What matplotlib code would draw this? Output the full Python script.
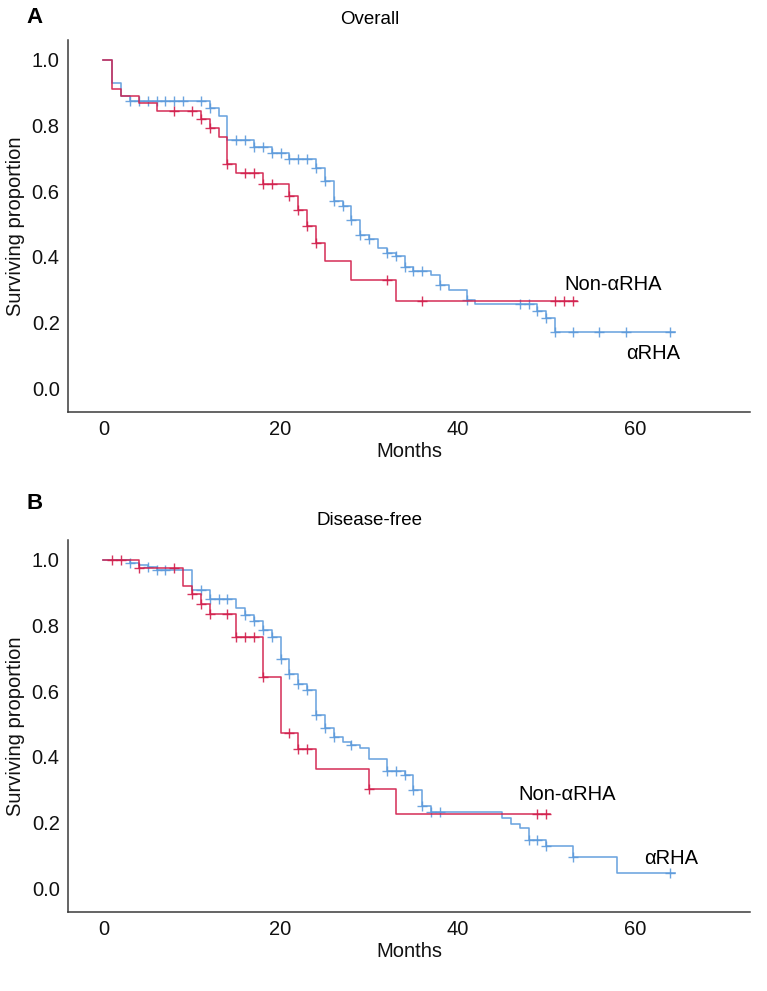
import numpy as np
import matplotlib
matplotlib.use("Agg")
import matplotlib.pyplot as plt

plt.rcParams['font.family'] = ['Liberation Sans', 'DejaVu Sans']

# ---- Overall survival (panel A) ----
a_red_times = [0, 1, 2, 4, 6, 11, 12, 13, 14, 15, 18, 21, 22, 23, 24, 25, 28, 33]
a_red_surv = [1.0, 0.912, 0.889, 0.867, 0.844, 0.818, 0.793, 0.766, 0.683, 0.655,
              0.621, 0.584, 0.542, 0.494, 0.443, 0.387, 0.329, 0.265]
a_red_end = 53.5
a_red_cens = [8, 10, 11, 12, 14, 16, 17, 18, 19, 21, 22, 23, 24, 32, 36, 51, 52, 53]

a_blue_times = [0, 1, 2, 3, 12, 13, 14, 17, 19, 21, 24, 25, 26, 27, 28, 29, 30, 31,
                32, 33, 34, 35, 37, 38, 39, 41, 42, 49, 50, 51]
a_blue_surv = [1.0, 0.929, 0.889, 0.873, 0.852, 0.829, 0.756, 0.734, 0.716, 0.697,
               0.670, 0.632, 0.571, 0.555, 0.512, 0.465, 0.453, 0.428, 0.413, 0.403,
               0.370, 0.358, 0.345, 0.314, 0.299, 0.268, 0.255, 0.236, 0.215, 0.170]
a_blue_end = 64.5
a_blue_cens = [3, 4, 5, 6, 7, 8, 9, 11, 12, 15, 16, 17, 18, 19, 20, 21, 22, 23, 24, 25,
               26, 27, 28, 29, 30, 32, 33, 34, 35, 36, 38, 41, 47, 48, 49, 50, 51, 53,
               56, 59, 64]

# ---- Disease-free survival (panel B) ----
b_red_times = [0, 4, 9, 10, 11, 12, 15, 18, 20, 22, 24, 30, 33]
b_red_surv = [1.0, 0.975, 0.920, 0.895, 0.865, 0.835, 0.765, 0.642, 0.472, 0.423,
              0.363, 0.303, 0.225]
b_red_end = 50.4
b_red_cens = [1, 2, 4, 8, 10, 11, 12, 14, 15, 16, 17, 18, 21, 22, 23, 30, 49, 50]

b_blue_times = [0, 3, 4, 5, 6, 10, 12, 15, 16, 17, 18, 19, 20, 21, 22, 23, 24, 25, 26,
                27, 28, 29, 30, 32, 34, 35, 36, 37, 45, 46, 47, 48, 50, 53, 58]
b_blue_surv = [1.0, 0.990, 0.984, 0.978, 0.970, 0.908, 0.881, 0.852, 0.833, 0.813,
               0.785, 0.765, 0.697, 0.651, 0.622, 0.603, 0.528, 0.488, 0.462, 0.444,
               0.437, 0.427, 0.395, 0.357, 0.344, 0.298, 0.252, 0.232, 0.214, 0.197,
               0.183, 0.148, 0.128, 0.096, 0.047]
b_blue_end = 64.5
b_blue_cens = [3, 5, 6, 7, 11, 12, 13, 14, 16, 17, 18, 19, 20, 21, 22, 23, 24, 25, 26,
               28, 32, 33, 34, 35, 36, 37, 38, 48, 49, 50, 53, 64]

x_ticks = [0, 20, 40, 60]
y_ticks = [0.0, 0.2, 0.4, 0.6, 0.8, 1.0]

RED = '#D21E4B'
BLUE = '#5C9ADC'
AXCOL = '#3a3a3a'
FS = 14.5


def km_curve(ax, times, surv, end, cens, color):
    t = np.array(list(times) + [end])
    s = np.array(list(surv) + [surv[-1]])
    ax.step(t, s, where='post', color=color, lw=1.15, alpha=0.9)
    # censor marks sit on the curve level at that time
    idx = np.searchsorted(np.array(times), np.array(cens), side='right') - 1
    cy = np.array(surv)[idx]
    ax.plot(cens, cy, linestyle='none', marker='+', ms=7, mew=1.0, color=color, alpha=0.9)


def style_axes(ax):
    ax.set_xlim(-4, 73)
    ax.set_ylim(-0.072, 1.06)
    ax.set_xticks(x_ticks)
    ax.set_yticks(y_ticks)
    ax.set_yticklabels(['%.1f' % v for v in y_ticks])
    ax.tick_params(length=0, labelsize=FS, pad=6, labelcolor='#111111')
    for side in ['top', 'right']:
        ax.spines[side].set_visible(False)
    for side in ['left', 'bottom']:
        ax.spines[side].set_color(AXCOL)
        ax.spines[side].set_linewidth(1.1)
    ax.set_xlabel('Months', fontsize=FS, labelpad=2, color='#111111')
    ax.set_ylabel('Surviving proportion', fontsize=FS, labelpad=5, color='#111111')


fig = plt.figure(figsize=(7.67, 9.91), dpi=100)
ax_a = fig.add_axes([0.0887, 0.5843, 0.8892, 0.3754])
ax_b = fig.add_axes([0.0887, 0.0797, 0.8892, 0.3754])

km_curve(ax_a, a_blue_times, a_blue_surv, a_blue_end, a_blue_cens, BLUE)
km_curve(ax_a, a_red_times, a_red_surv, a_red_end, a_red_cens, RED)
style_axes(ax_a)
ax_a.text(52, 0.315, 'Non-αRHA', fontsize=FS, va='center', ha='left')
ax_a.text(59, 0.105, 'αRHA', fontsize=FS, va='center', ha='left')

km_curve(ax_b, b_blue_times, b_blue_surv, b_blue_end, b_blue_cens, BLUE)
km_curve(ax_b, b_red_times, b_red_surv, b_red_end, b_red_cens, RED)
style_axes(ax_b)
ax_b.text(46.8, 0.285, 'Non-αRHA', fontsize=FS, va='center', ha='left')
ax_b.text(61, 0.09, 'αRHA', fontsize=FS, va='center', ha='left')

fig.text(0.482, 0.980, 'Overall', fontsize=13.5, ha='center', va='center')
fig.text(0.482, 0.475, 'Disease-free', fontsize=13.5, ha='center', va='center')
fig.text(0.045, 0.982, 'A', fontsize=16, fontweight='bold', ha='center', va='center')
fig.text(0.045, 0.492, 'B', fontsize=16, fontweight='bold', ha='center', va='center')

fig.savefig('out.png', dpi=100)
